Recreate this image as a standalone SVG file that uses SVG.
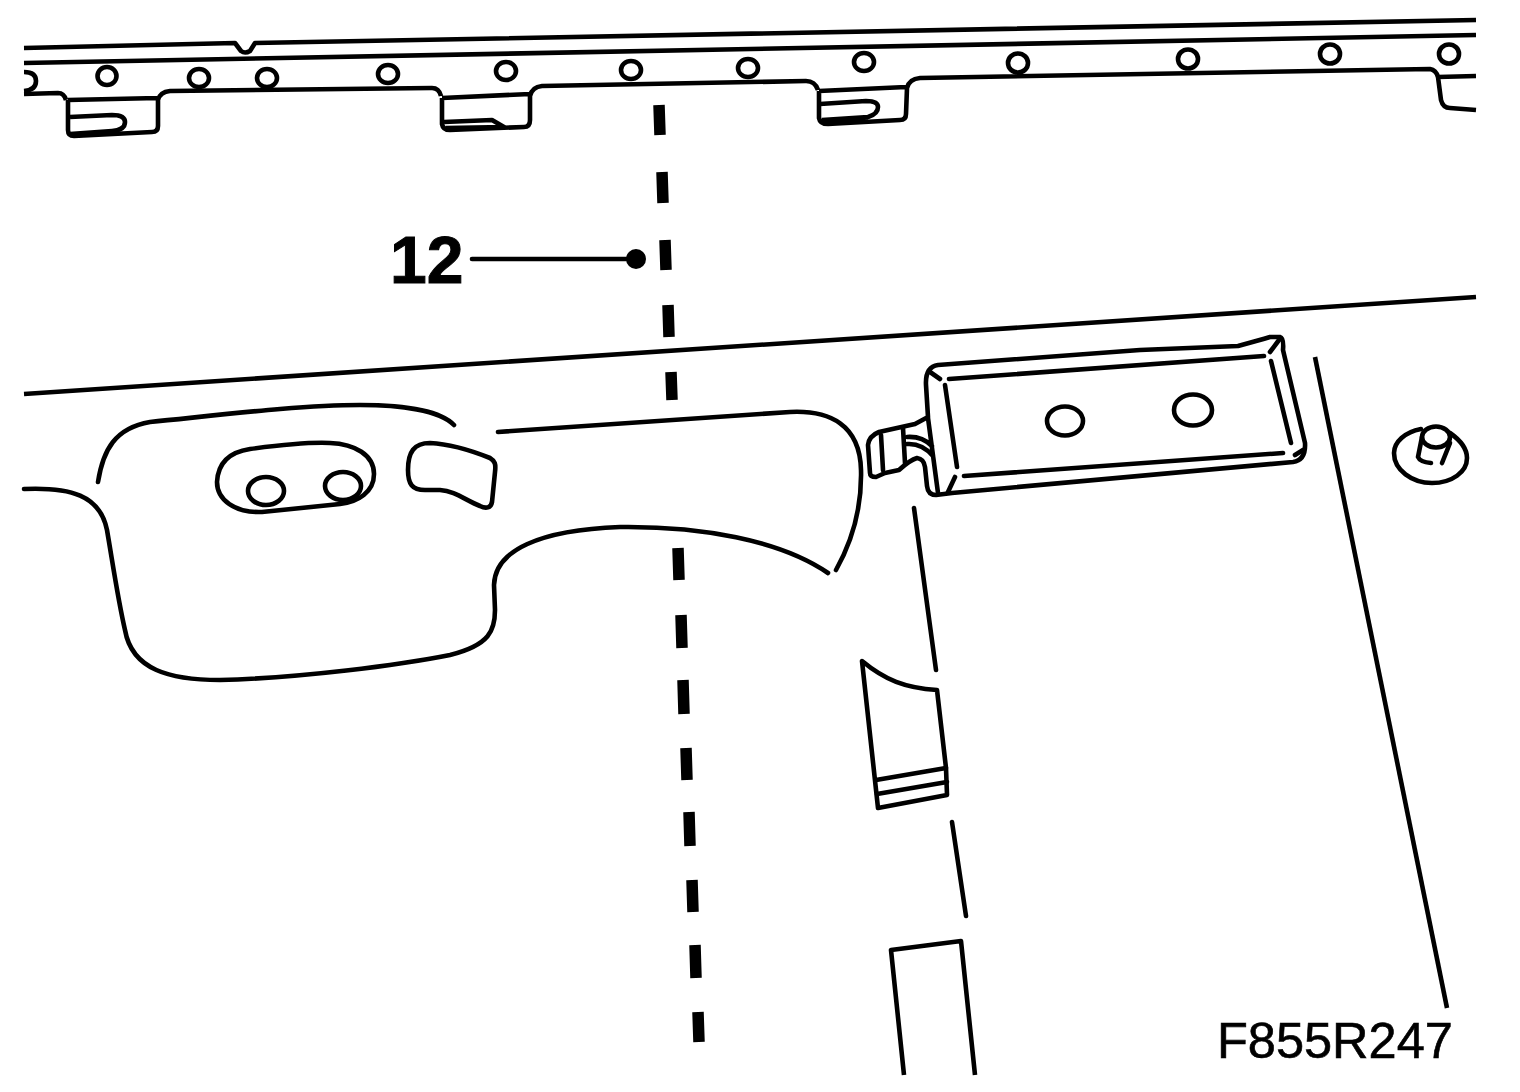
<svg xmlns="http://www.w3.org/2000/svg" width="1520" height="1092" viewBox="0 0 1520 1092">
<style>
.l{fill:none;stroke:#000;stroke-width:4.6;stroke-linecap:round;stroke-linejoin:round}
.b{fill:none;stroke:#000;stroke-width:4.6;stroke-linecap:butt;stroke-linejoin:round}
.d{fill:none;stroke:#000;stroke-width:11.5;stroke-linecap:butt}
.t{font-family:"Liberation Sans",Arial,sans-serif;fill:#000;stroke:#000}
</style>
<rect width="1520" height="1092" fill="#fff"/>
<g id="top-rail">
<path class="b" d="M24 48L235 43L241 51Q245 54 250 51L255 43L1476 20"/>
<path class="b" d="M24 63L1476 35"/>
<path class="b" d="M24 94L58 93Q64 93 66 100M68 100L158 98M68 100L68 130Q68 136 74 136L152 132Q158 132 158 126L158 100Q160 92 170 91L432 88Q439 88 441 96M442 98L530 94M442 98L442 124Q443 130 450 130L524 127Q530 127 530 120L530 96Q532 87 542 86L806 81Q815 81 818 90M819 91L906 87M819 91L819 118Q820 124 828 124L900 120Q906 120 906 114L907 88Q909 79 920 78L1430 69Q1436 70 1438 77L1441 100Q1443 108 1450 108L1476 110M1438 77L1476 76"/>
<path class="b" d="M24 72Q36 72 36 81Q36 90 24 91"/>
<path class="b" d="M70 117L112 115Q125 115 125 122Q125 130 112 131L70 134M72 135L112 132"/>
<path class="b" d="M444 122L492 120L504 127L446 128"/>
<path class="b" d="M820 104L866 101Q878 101 878 107Q878 114 868 117L822 120M822 122L868 118"/>
<ellipse class="l" cx="107" cy="76" rx="9.5" ry="9"/>
<ellipse class="l" cx="199" cy="78" rx="10" ry="9"/>
<ellipse class="l" cx="267" cy="78" rx="10" ry="9"/>
<ellipse class="l" cx="388" cy="74" rx="10" ry="9"/>
<ellipse class="l" cx="506" cy="71" rx="10" ry="9"/>
<ellipse class="l" cx="631" cy="70" rx="10" ry="9"/>
<ellipse class="l" cx="748" cy="68" rx="10" ry="9"/>
<ellipse class="l" cx="864" cy="62" rx="10" ry="9"/>
<ellipse class="l" cx="1018" cy="63" rx="10" ry="9.5"/>
<ellipse class="l" cx="1188" cy="59" rx="10" ry="9.5"/>
<ellipse class="l" cx="1330" cy="54" rx="10" ry="9.5"/>
<ellipse class="l" cx="1449" cy="54" rx="10" ry="9.5"/>
</g>
<g id="centre-line">
<path class="d" d="M659 105L660 135M662 172L663 203M665 240L666 270M668 305L669 337M671 372L672 400M678 548L679 580M681 615L682 648M683 680L684 714M686 748L687 780M689 812L690 846M692 880L693 912M695 945L696 978M698 1012L699 1042"/>
</g>
<g id="label-12">
<text class="t" x="390" y="283" font-size="66" font-weight="700" stroke-width="1">12</text>
<path class="l" d="M472 259L635 259"/>
<circle cx="636" cy="259" r="10"/>
</g>
<g id="panel">
<path class="b" d="M24 394L1476 297"/>
<path class="l" d="M24 489C70 487 100 495 107 530C113 565 118 600 125 630C132 670 170 680 220 680C300 678 400 665 450 655C490 645 495 630 495 610L494 585C495 550 540 530 620 527C700 526 780 540 828 573"/>
<path class="l" d="M98 482C103 450 115 428 150 422C220 415 300 405 360 405C400 405 440 410 454 425"/>
<path class="l" d="M498 432L790 412C830 410 860 425 861 470C862 510 850 545 836 570"/>
<path class="l" d="M217 482C218 462 230 452 250 449C280 445 310 442 330 443C355 444 374 455 374 474C374 492 358 502 340 504L262 512C235 513 217 500 217 482Z"/>
<ellipse class="l" cx="266" cy="491" rx="18" ry="14"/>
<ellipse class="l" cx="343" cy="486" rx="18" ry="14"/>
<path class="l" d="M408 470C408 452 414 443 430 443C450 444 475 452 490 458C495 461 496 464 495 472L492 502C491 508 486 509 480 506C465 500 455 491 440 490L425 490C412 490 408 484 408 470Z"/>
</g>
<g id="bracket">
<path class="l" d="M926 385Q925 367 938 365L1140 350L1238 346Q1260 340 1270 337L1280 337Q1284 338 1283 350L1305 443Q1306 460 1293 462L952 493L936 495Q928 495 927 486L925 467Q924 459 917 458Q910 460 899 470L885 473L876 477Q870 477 870 473L868 445Q869 436 879 432L915 424L928 417L926 385Z"/>
<path class="l" d="M881 435L883 470M903 428L905 463M928 418L938 493M907 437Q922 436 932 446M907 444Q922 443 933 456"/>
<path class="l" d="M949 379L1264 356M945 385L957 467M964 476L1283 453M1271 361L1291 443"/>
<path class="l" d="M930 372L940 379M955 477L948 492M1279 340L1270 352M1295 455L1303 450"/>
<ellipse class="l" cx="1065" cy="421" rx="18" ry="14.5"/>
<ellipse class="l" cx="1193" cy="410" rx="19" ry="15.5"/>
</g>
<g id="bolt">
<path class="l" d="M1421 429C1405 432 1394 442 1394 453C1394 470 1412 483 1432 483C1452 483 1467 472 1467 458C1467 448 1460 440 1450 433"/>
<ellipse class="l" cx="1436" cy="437" rx="14" ry="10.5"/>
<path class="l" d="M1422 437L1418 457Q1420 462 1431 463M1450 443L1442 463"/>
</g>
<g id="lower-parts">
<path class="b" d="M1315 357L1447 1008"/>
<path class="l" d="M914 508L936 670M952 822L966 916"/>
<path class="l" d="M862 661C885 680 905 688 937 690L946 768L947 795L878 808Z"/>
<path class="l" d="M876 780L946 768M877 794L947 782"/>
<path class="b" d="M904 1075L891 950L961 941L975 1075"/>
</g>
<text id="code" class="t" x="1217" y="1058" font-size="50.5" stroke-width="0.6">F855R247</text>
</svg>
